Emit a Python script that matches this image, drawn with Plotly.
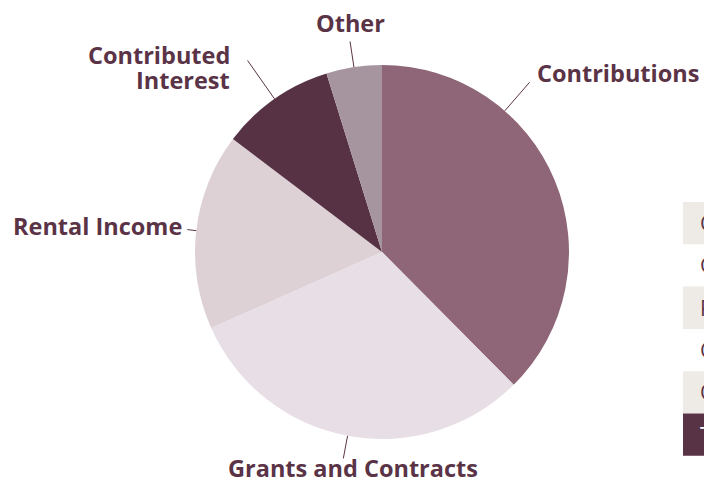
import math
import plotly.graph_objects as go

# ---- data ----
categories = ["Contributions", "Grants and Contracts", "Rental Income", "Contributed Interest", "Other"]
values = [37.6, 30.8, 17.0, 9.9, 4.8]
label_texts = ["Contributions", "Grants and Contracts", "Rental Income", "Contributed<br>Interest", "Other"]
table_rows = ["Contributions", "Grants and Contracts", "Rental Income", "Contributed Interest", "Other", "Total"]

# ---- style ----
W, H = 704, 480
colors = ["#8e6677", "#e8dfe6", "#ddd1d6", "#563244", "#a6959f"]
LABEL_COLOR = "#5a3346"
CX, CY, R = 382, 252, 187  # pie centre / radius in pixels
angle_shift = [-26.6, 0, 0, 0, 0]     # leader line angle adjustment (deg)
line_len = [38, 23, 9, 47, 26]        # leader length in px
anchors = [("left", 5, 9), ("center", 10, -10), ("right", -3, 4),
           ("right", -16, -7.5), ("center", 0, 18)]
LINE_GAP = 25

def px2paper(x, y):
    return x / W, 1 - y / H

fig = go.Figure()
fig.add_trace(go.Pie(
    labels=categories, values=values, sort=False, direction="clockwise", rotation=0,
    marker=dict(colors=colors, line=dict(width=0)),
    textinfo="none", hoverinfo="label+percent", showlegend=False,
    domain=dict(x=[(CX - R) / W, (CX + R) / W], y=[1 - (CY + R) / H, 1 - (CY - R) / H]),
))

shapes = []
annotations = []
total = sum(values)
cum = 0
for i, v in enumerate(values):
    mid = 360 * (cum + v / 2) / total + angle_shift[i]
    cum += v
    a = math.radians(mid)
    sx, sy = CX + R * math.sin(a), CY - R * math.cos(a)
    ex, ey = CX + (R + line_len[i]) * math.sin(a), CY - (R + line_len[i]) * math.cos(a)
    x0, y0 = px2paper(sx, sy)
    x1, y1 = px2paper(ex, ey)
    shapes.append(dict(type="line", xref="paper", yref="paper", x0=x0, y0=y0, x1=x1, y1=y1,
                       line=dict(color=LABEL_COLOR, width=1)))
    xa, xs, ys = anchors[i]
    lines = label_texts[i].split("<br>")
    n = len(lines)
    for k, txt in enumerate(lines):
        annotations.append(dict(
            x=x1, y=y1, xref="paper", yref="paper", text=txt, showarrow=False,
            xanchor=xa, yanchor="middle", xshift=xs, yshift=ys - (k - (n - 1) / 2) * LINE_GAP,
            font=dict(family="Open Sans", size=23.5, color=LABEL_COLOR, weight=700),
        ))

# partially visible table at right edge
ROW_TOP, ROW_H, TX0 = 202, 42.3, 683
for j, name in enumerate(table_rows):
    top = ROW_TOP + j * ROW_H
    last = j == len(table_rows) - 1
    fill = "#583245" if last else ("#eeebe7" if j % 2 == 0 else "rgba(0,0,0,0)")
    y0p, y1p = 1 - (top + ROW_H) / H, 1 - top / H
    shapes.append(dict(type="rect", xref="paper", yref="paper", x0=TX0 / W, x1=1.2,
                       y0=y0p, y1=y1p, fillcolor=fill, line=dict(width=0), layer="below"))
    annotations.append(dict(
        x=698 / W, y=(y0p + y1p) / 2, xref="paper", yref="paper", text=name, showarrow=False,
        xanchor="left", yanchor="middle",
        font=dict(family="Open Sans", size=21, color="#ffffff" if last else LABEL_COLOR),
    ))

fig.update_layout(
    width=W, height=H, margin=dict(l=0, r=0, t=0, b=0),
    paper_bgcolor="white", plot_bgcolor="white",
    shapes=shapes, annotations=annotations,
)
fig.write_html("out.html", config={"displayModeBar": False},
               post_script="document.body.style.margin='0';")
